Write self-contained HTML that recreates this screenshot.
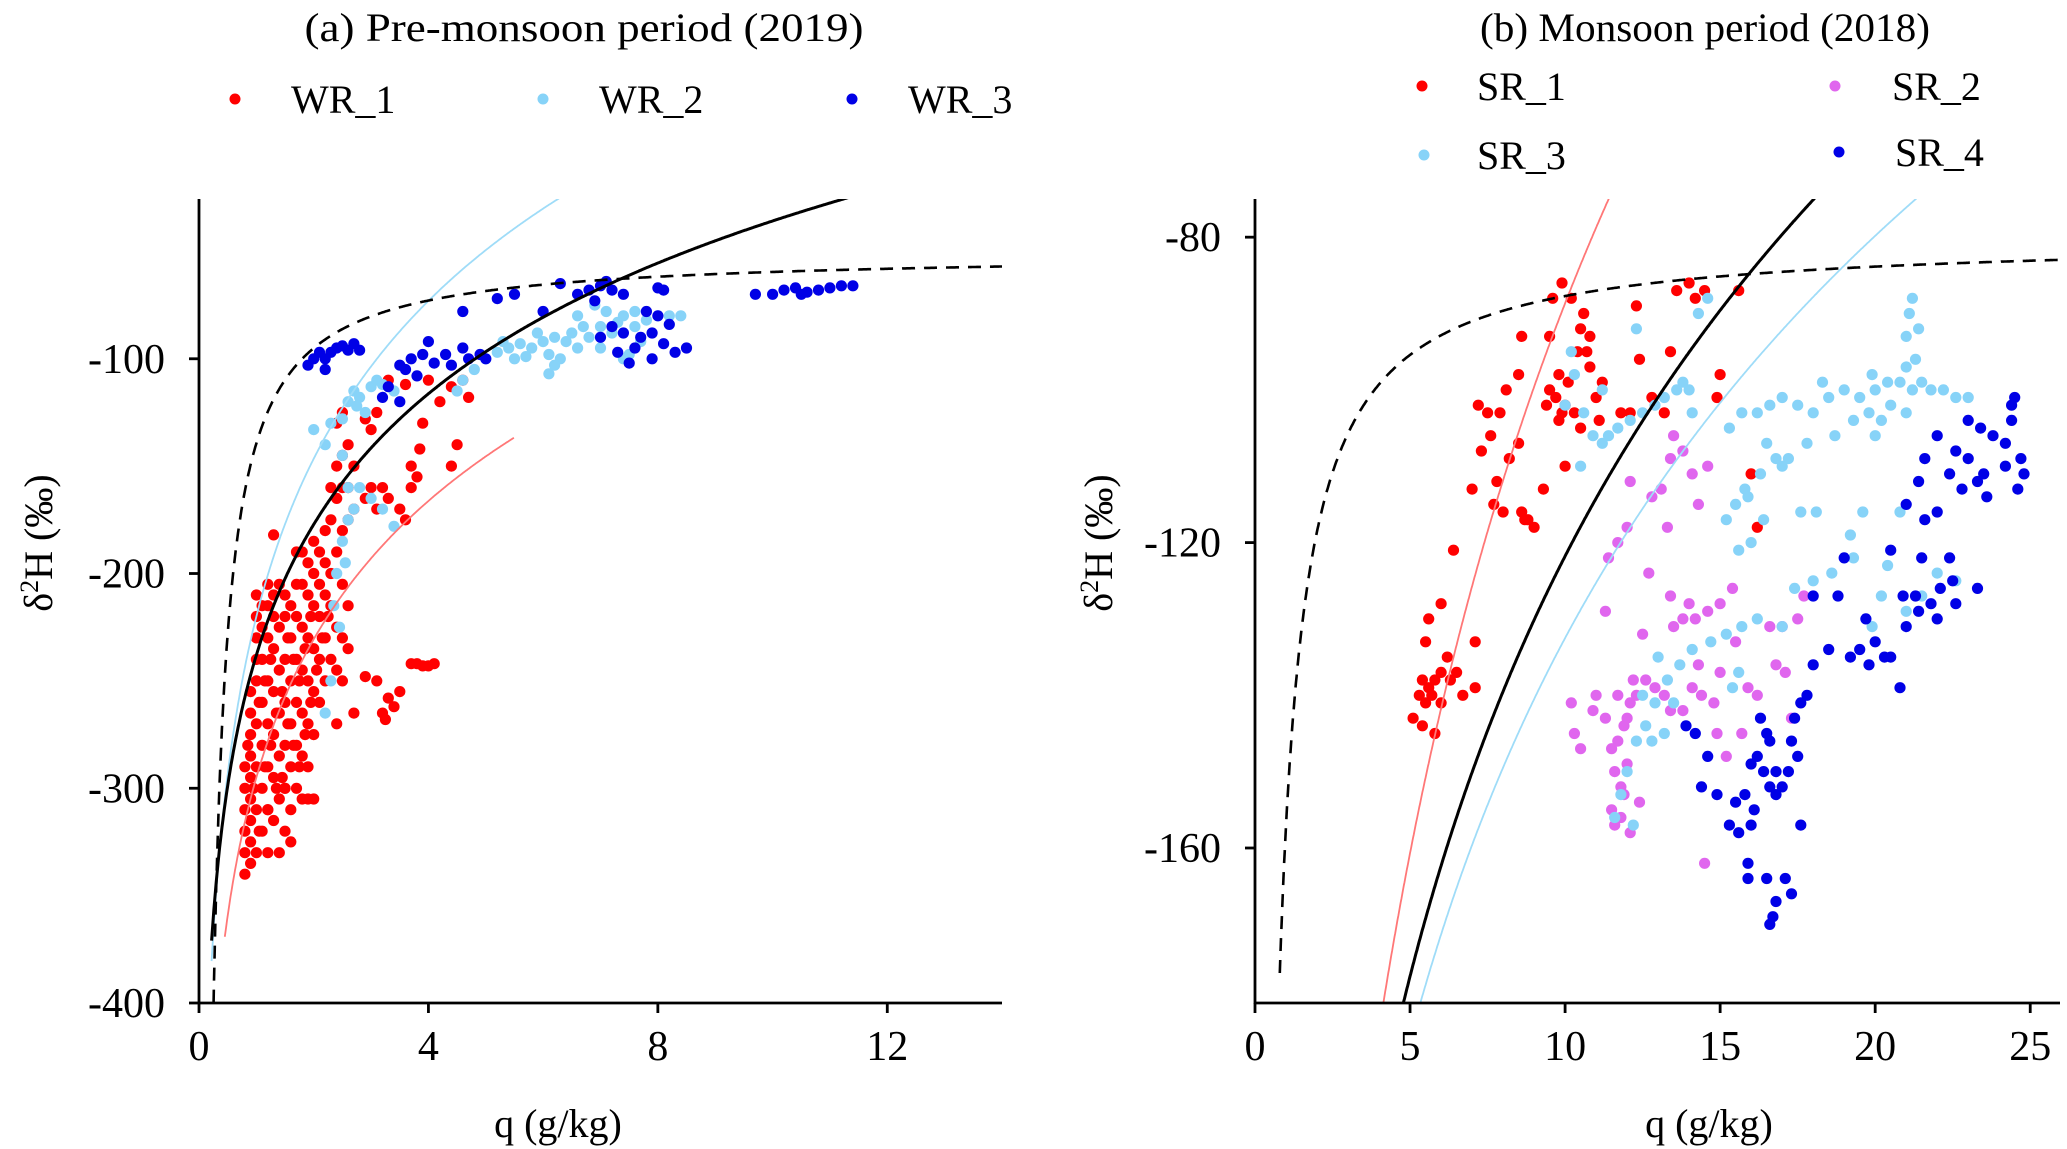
<!DOCTYPE html>
<html><head><meta charset="utf-8"><style>
html,body{margin:0;padding:0;background:#fff}
svg{display:block;font-family:"Liberation Serif",serif}
</style></head><body>
<svg id="chart" width="2067" height="1149" viewBox="0 0 2067 1149" xmlns="http://www.w3.org/2000/svg">
<g id="pa"></g>
<g id="pb"></g>
</svg>
<script>
// ---------- Panel A data ----------
const aXTicks=[0,4,8,12];
const aYTicks=[-100,-200,-300,-400];
const aYTickLabels=["-100","-200","-300","-400"];
const wr1=[0.8,-340,0.8,-330,0.8,-320,0.8,-310,0.8,-300,0.8,-290,0.9,-335,0.9,-325,0.9,-315,0.9,-305,0.9,-295,0.9,-285,0.9,-275,0.9,-265,0.9,-255,
1.0,-330,1.0,-310,1.0,-290,1.0,-270,1.0,-250,1.0,-240,1.0,-230,1.0,-220,1.0,-210,1.1,-320,1.1,-300,1.1,-280,1.1,-260,1.1,-240,1.1,-225,1.1,-215,
1.2,-330,1.2,-310,1.2,-290,1.2,-270,1.2,-250,1.2,-230,1.2,-215,1.2,-205,1.3,-315,1.3,-295,1.3,-275,1.3,-255,1.3,-235,1.3,-220,1.3,-210,
1.4,-305,1.4,-285,1.4,-265,1.4,-245,1.4,-225,1.4,-205,1.5,-320,1.5,-300,1.5,-280,1.5,-260,1.5,-240,1.5,-220,1.5,-210,
1.6,-310,1.6,-290,1.6,-270,1.6,-250,1.6,-230,1.6,-215,1.7,-300,1.7,-280,1.7,-260,1.7,-240,1.7,-220,1.7,-205,
1.8,-305,1.8,-285,1.8,-265,1.8,-245,1.8,-225,1.8,-205,1.8,-190,1.9,-290,1.9,-270,1.9,-250,1.9,-230,1.9,-210,1.9,-195,
2.0,-275,2.0,-255,2.0,-235,2.0,-215,2.0,-200,2.0,-185,2.1,-260,2.1,-240,2.1,-220,2.1,-205,2.1,-190,2.2,-250,2.2,-230,2.2,-210,2.2,-195,2.2,-180,
2.3,-240,2.3,-215,2.3,-200,2.3,-175,2.3,-160,2.4,-270,2.4,-245,2.4,-225,2.4,-190,2.4,-165,2.4,-150,2.4,-130,2.5,-250,2.5,-230,2.5,-205,2.5,-180,2.5,-160,2.5,-145,2.5,-125,
2.6,-235,2.6,-215,2.6,-175,2.6,-160,2.6,-140,2.7,-265,2.7,-170,2.7,-150,
0.85,-280,0.95,-300,1.05,-320,1.05,-260,1.15,-290,1.15,-250,1.25,-280,1.25,-240,1.35,-300,1.35,-265,1.45,-295,1.45,-255,1.55,-270,1.55,-230,1.65,-280,1.65,-240,1.75,-290,1.75,-250,1.85,-275,1.85,-235,1.95,-260,1.95,-220,2.05,-245,2.15,-230,2.25,-220,
1.3,-182,1.7,-190,2.9,-165,3.0,-160,3.1,-170,3.2,-160,3.3,-165,3.5,-170,3.6,-175,3.7,-160,3.8,-155,3.7,-150,3.9,-130,3.85,-142,4.4,-150,4.5,-140,4.2,-120,4.4,-113,4.6,-110,4.7,-118,
3.3,-110,3.1,-125,3.6,-112,4.0,-110,2.9,-128,3.0,-133,3.2,-265,3.3,-258,3.4,-262,3.5,-255,3.25,-268,3.7,-242,3.8,-242,3.9,-243,4.0,-243,4.1,-242,2.9,-248,3.1,-250,1.9,-305,2.0,-305,1.4,-330,1.6,-325,1.2,-310,1.5,-300];
const wr2=[2.0,-133,2.2,-140,2.3,-130,2.5,-128,2.6,-120,2.7,-115,2.8,-118,3.0,-113,3.1,-110,3.2,-112,3.4,-115,2.9,-125,2.75,-122,2.5,-145,2.6,-160,2.7,-170,2.8,-160,3.0,-165,3.2,-170,3.4,-178,2.5,-185,2.4,-200,2.35,-215,2.45,-225,2.3,-250,2.2,-265,2.6,-175,2.55,-195,
4.6,-110,4.8,-105,5.0,-100,5.2,-97,5.4,-95,5.6,-93,5.8,-95,6.0,-92,6.1,-98,6.2,-90,6.4,-92,6.5,-88,6.6,-95,6.8,-90,7.0,-85,7.2,-88,7.4,-80,7.6,-85,7.8,-82,8.0,-80,8.2,-80,6.9,-75,7.1,-78,7.3,-83,5.5,-100,5.9,-88,6.3,-100,6.1,-107,6.7,-85,7.7,-92,7.5,-98,4.5,-115,4.9,-98,5.3,-92,5.7,-99,6.6,-80,7.0,-95,7.6,-78,8.4,-80,7.4,-100,6.2,-103];
const wr3=[1.9,-103,2.0,-100,2.1,-97,2.2,-100,2.3,-97,2.4,-95,2.5,-94,2.6,-96,2.2,-105,2.7,-93,2.8,-96,3.3,-113,3.5,-103,3.6,-105,3.7,-100,3.9,-98,3.8,-108,4.1,-102,4.3,-98,4.4,-103,4.7,-100,4.9,-98,5.0,-100,4.6,-95,3.2,-118,3.5,-120,4.0,-92,4.6,-78,5.2,-72,5.5,-70,6.0,-78,6.3,-65,6.6,-70,6.8,-68,7.0,-66,7.2,-68,7.4,-70,6.9,-73,7.1,-64,7.8,-78,8.0,-80,7.9,-88,8.1,-93,8.3,-97,8.5,-95,7.7,-90,7.6,-95,7.9,-100,8.2,-84,7.5,-102,7.3,-97,7.2,-85,8.0,-67,8.1,-68,9.7,-70,10.0,-70,10.2,-68,10.4,-67,10.6,-69,10.8,-68,11.0,-67,11.2,-66,11.4,-66,10.5,-70,7.0,-90,7.4,-88];
const aBlack=[-238,87.8], aBlue=[-220,106], aRed=[-295,92.9], aMix=[-50.7,-88.7];
// ---------- Panel B data ----------
const bXTicks=[0,5,10,15,20,25];
const bYTicks=[-80,-120,-160];
const bYTickLabels=["-80","-120","-160"];
const sr1=[5.1,-143,5.3,-140,5.5,-141,5.6,-139,5.7,-140,5.8,-138,6.0,-137,6.3,-138,6.5,-137,7.1,-139,6.7,-140,5.8,-145,5.4,-138,6.0,-141,6.2,-135,5.5,-133,5.6,-130,6.0,-128,5.4,-144,6.4,-121,7.1,-133,7.0,-113,7.2,-102,7.5,-103,7.3,-108,7.6,-106,7.8,-112,8.0,-116,7.7,-115,7.9,-103,8.2,-109,8.5,-107,8.6,-116,8.7,-117,8.8,-117,9.0,-118,8.1,-100,8.5,-98,8.6,-93,9.3,-113,9.4,-102,9.5,-100,9.7,-101,9.8,-98,10.0,-102,10.1,-99,9.8,-104,10.0,-110,9.9,-103,10.3,-103,10.5,-105,9.5,-93,9.6,-88,9.9,-86,10.2,-88,10.5,-92,10.7,-95,10.8,-97,10.6,-90,11.1,-104,11.2,-99,11.0,-101,12.1,-103,12.4,-96,12.8,-101,13.4,-95,13.2,-103,12.3,-89,13.6,-87,14.0,-86,14.2,-88,14.5,-87,15.6,-87,14.9,-101,15.0,-98,16.0,-111,16.2,-118,11.8,-103,10.8,-93,10.4,-95];
const sr2=[10.2,-141,10.3,-145,10.5,-147,11.0,-140,11.3,-143,11.5,-147,11.7,-146,11.9,-144,12.0,-143,12.1,-141,12.3,-140,11.6,-150,11.8,-152,11.9,-153,11.5,-155,11.6,-157,11.8,-156,12.1,-158,12.4,-154,12.0,-149,11.7,-140,12.2,-138,12.6,-138,12.9,-139,13.2,-140,13.4,-142,13.8,-142,14.1,-139,14.4,-140,14.8,-141,14.3,-136,15.0,-137,15.5,-133,15.9,-139,16.2,-140,16.8,-136,17.1,-137,17.3,-143,13.5,-131,13.8,-130,14.2,-130,14.6,-129,15.0,-128,15.4,-126,14.0,-128,13.4,-127,12.5,-132,11.3,-129,11.4,-122,11.7,-120,12.0,-118,12.7,-124,13.3,-118,13.1,-113,13.4,-109,13.5,-106,13.8,-108,14.1,-111,14.6,-110,14.3,-115,14.9,-145,12.8,-114,14.5,-162,16.6,-131,17.5,-130,17.7,-127,17.0,-131,15.7,-145,15.2,-148,12.1,-112,10.9,-142];
const sr3=[10.2,-95,10.3,-98,10.0,-102,10.6,-103,10.9,-106,11.2,-107,11.4,-106,11.7,-105,12.1,-104,12.5,-103,12.9,-102,13.2,-101,13.6,-100,14.0,-100,14.1,-103,13.8,-99,12.3,-92,14.3,-90,14.6,-88,15.3,-105,15.7,-103,16.2,-103,16.6,-102,17.0,-101,17.5,-102,18.0,-103,18.5,-101,19.0,-100,19.5,-101,20.0,-100,20.4,-99,20.8,-99,21.2,-100,21.5,-99,21.8,-100,22.2,-100,22.6,-101,23.0,-101,21.0,-103,20.5,-102,19.8,-103,19.3,-104,18.7,-106,17.8,-107,17.2,-109,16.8,-109,16.3,-111,15.8,-113,15.5,-115,15.2,-117,15.9,-114,16.5,-107,17.6,-116,18.1,-116,19.2,-119,20.8,-116,19.6,-116,16.0,-120,15.6,-121,21.0,-97,21.3,-96,21.4,-92,21.0,-93,21.2,-88,21.1,-90,20.2,-104,19.9,-98,18.3,-99,20.0,-106,17.0,-110,16.4,-117,17.4,-126,18.0,-125,18.6,-124,19.3,-122,20.2,-127,21.0,-129,21.5,-127,22.6,-125,22.0,-124,20.4,-123,19.9,-131,17.0,-131,16.2,-130,15.7,-131,15.2,-132,14.7,-133,14.1,-134,13.7,-136,13.3,-138,12.9,-141,12.6,-144,12.3,-146,12.0,-150,11.8,-153,12.2,-157,11.6,-156,12.8,-146,13.2,-145,13.5,-141,12.5,-140,15.4,-139,15.6,-137,13.0,-135,11.2,-100,10.5,-110];
const sr4=[13.9,-144,14.2,-145,14.6,-148,14.4,-152,14.9,-153,15.3,-157,15.5,-154,15.8,-153,16.0,-149,16.2,-148,16.4,-150,16.6,-152,16.8,-153,17.0,-152,16.3,-143,16.5,-145,16.6,-146,16.8,-150,17.3,-146,17.4,-143,17.6,-141,17.8,-140,17.5,-148,17.2,-150,16.0,-157,15.9,-162,15.9,-164,16.5,-164,17.1,-164,17.3,-166,16.8,-167,16.6,-170,16.7,-169,17.6,-157,16.1,-155,15.6,-158,18.0,-136,18.5,-134,19.0,-122,19.7,-130,19.5,-134,19.2,-135,19.8,-136,20.3,-135,20.0,-133,20.5,-135,20.8,-139,21.0,-131,21.4,-129,21.8,-128,22.1,-126,22.5,-125,21.3,-127,20.9,-127,22.0,-130,22.6,-128,23.3,-126,20.5,-121,21.0,-115,21.4,-112,21.6,-117,22.0,-116,22.4,-111,22.8,-113,23.3,-112,23.5,-111,23.6,-114,23.0,-109,22.6,-108,23.8,-106,24.2,-107,24.4,-104,24.4,-102,24.5,-101,24.7,-109,24.8,-111,24.6,-113,24.2,-110,22.0,-106,21.6,-109,23.0,-104,23.4,-105,22.4,-122,21.5,-122,18.0,-127,18.8,-127];
const bBlack=[-304.6,79.4], bBlue=[-307.5,76], bRed=[-327.9,103.9], bMix=[-80,-77.1];

const NS="http://www.w3.org/2000/svg";
function mk(parent,tag,attrs){const e=document.createElementNS(NS,tag);for(const k in attrs)e.setAttribute(k,attrs[k]);parent.appendChild(e);return e;}

function panel(g,cfg){
  const sx=v=>cfg.x0+(v-cfg.xmin)*(cfg.x1-cfg.x0)/(cfg.xmax-cfg.xmin);
  const sy=v=>cfg.y0+(v-cfg.ymin)*(cfg.y1-cfg.y0)/(cfg.ymax-cfg.ymin);
  const clip=mk(g,'clipPath',{id:cfg.id+'clip'});
  mk(clip,'rect',{x:cfg.x0,y:cfg.y1,width:cfg.x1-cfg.x0,height:cfg.y0-cfg.y1});
  const plot=mk(g,'g',{'clip-path':'url(#'+cfg.id+'clip)'});
  
  
  cfg.series.forEach(s=>{
    const sg=mk(plot,'g',{fill:s.color});
    
    
    for(let i=0;i<s.data.length;i+=2){
      const c=mk(sg,'circle',{cx:sx(s.data[i]).toFixed(1),cy:sy(s.data[i+1]).toFixed(1),r:5.6});
      
      
    }
  });
  cfg.curves.forEach(cv=>{
    let d='';let first=true;
    for(let q=cv.from;q<=cv.to+1e-9;q+=0.02){
      const v=cv.type==='log'?cv.p[0]+cv.p[1]*Math.log(q):cv.p[0]+cv.p[1]/q;
      if(v<cfg.ymin-30)continue;
      d+=(first?'M':'L')+sx(q).toFixed(1)+' '+sy(v).toFixed(1);first=false;
    }
    const p=mk(plot,'path',{d:d,fill:'none',stroke:cv.color,'stroke-width':cv.w});
    if(cv.dash)p.setAttribute('stroke-dasharray',cv.dash);
    
    
  });
  const ax=mk(g,'g',{stroke:'#000','stroke-width':2.8});
  
  
  mk(ax,'line',{x1:cfg.x0,y1:cfg.y1,x2:cfg.x0,y2:cfg.y0+1});
  mk(ax,'line',{x1:cfg.x0-1,y1:cfg.y0,x2:cfg.x1,y2:cfg.y0});
  cfg.xt.forEach(t=>{
    mk(ax,'line',{x1:sx(t),y1:cfg.y0,x2:sx(t),y2:cfg.y0+10});
    const tx=mk(g,'text',{x:sx(t),y:cfg.y0+57,'font-size':42,'text-anchor':'middle'});
    tx.textContent=String(t);
    
    
  });
  cfg.yt.forEach((t,i)=>{
    mk(ax,'line',{x1:cfg.x0-10,y1:sy(t),x2:cfg.x0,y2:sy(t)});
    const tx=mk(g,'text',{x:cfg.x0-34,y:sy(t)+14,'font-size':42,'text-anchor':'end'});
    tx.textContent=cfg.ytl[i];
    
    
  });
  const xt=mk(g,'text',{x:cfg.xtx,y:1137,'font-size':40,'text-anchor':'middle'});
  xt.textContent='q (g/kg)';
  
  
  const yt=mk(g,'text',{x:0,y:0,'font-size':40,'text-anchor':'middle',transform:'translate('+cfg.ytx+','+cfg.yty+') rotate(-90)'});
  yt.innerHTML='δ<tspan font-size="26" dy="-14">2</tspan><tspan dy="14">H (‰)</tspan>';
  
  
  const ti=mk(g,'text',{x:cfg.tx,y:41,'font-size':40,'text-anchor':'middle',textLength:cfg.tw,lengthAdjust:'spacingAndGlyphs'});
  ti.textContent=cfg.title;
  
  
  cfg.legend.forEach(l=>{
    const lg=mk(g,'g',{});
    
    
    mk(lg,'circle',{cx:l.cx,cy:l.cy,r:5.5,fill:l.color});
    const t=mk(lg,'text',{x:l.tx,y:l.cy+14,'font-size':40});
    t.textContent=l.label;
  });
}
const RED='#ff0000',LB='#87d3f8',BL='#0000e6',VI='#e066ee';
panel(document.getElementById('pa'),{id:'a',x0:199,x1:1002,y0:1003,y1:199,xmin:0,xmax:14,ymin:-400,ymax:-25.6,
 xt:aXTicks,yt:aYTicks,ytl:aYTickLabels,ytx:52,yty:543,xtx:558,tx:584,tw:559,title:'(a) Pre-monsoon period (2019)',
 series:[{name:'wr-1',color:RED,data:wr1},{name:'wr-2',color:LB,data:wr2},{name:'wr-3',color:BL,data:wr3}],
 curves:[{name:'wr-2-fit-curve',type:'log',p:aBlue,from:0.22,to:6.5,color:'#9fdcf8',w:1.8},
  {name:'wr-1-fit-curve',type:'log',p:aRed,from:0.45,to:5.5,color:'#f77',w:1.8},
  {name:'mixing-curve-dashed',type:'mix',p:aMix,from:0.22,to:14,color:'#000',w:2.6,dash:'13 9'},
  {name:'rayleigh-curve',type:'log',p:aBlack,from:0.22,to:14,color:'#000',w:3}],
 legend:[{label:'WR_1',color:RED,cx:235,cy:99,tx:291},{label:'WR_2',color:LB,cx:543,cy:99,tx:599},{label:'WR_3',color:BL,cx:852,cy:99,tx:908}]});
panel(document.getElementById('pb'),{id:'b',x0:1255,x1:2060,y0:1003,y1:199,xmin:0,xmax:25.96,ymin:-180.3,ymax:-75,
 xt:bXTicks,yt:bYTicks,ytl:bYTickLabels,ytx:1112,yty:543,xtx:1709,tx:1705,tw:450,title:'(b) Monsoon period (2018)',
 series:[{name:'sr-1',color:RED,data:sr1},{name:'sr-2',color:VI,data:sr2},{name:'sr-3',color:LB,data:sr3},{name:'sr-4',color:BL,data:sr4}],
 curves:[{name:'sr-3-fit-curve',type:'log',p:bBlue,from:4,to:26,color:'#9fdcf8',w:1.8},
  {name:'sr-1-fit-curve',type:'log',p:bRed,from:3.5,to:14,color:'#f77',w:1.8},
  {name:'mixing-curve-dashed',type:'mix',p:bMix,from:0.8,to:26,color:'#000',w:2.6,dash:'13 9'},
  {name:'rayleigh-curve',type:'log',p:bBlack,from:4,to:26,color:'#000',w:3}],
 legend:[{label:'SR_1',color:RED,cx:1422,cy:86,tx:1477},{label:'SR_2',color:VI,cx:1835,cy:86,tx:1892},{label:'SR_3',color:LB,cx:1424,cy:155,tx:1477},{label:'SR_4',color:BL,cx:1839,cy:152,tx:1895}]});
</script>
</body></html>
